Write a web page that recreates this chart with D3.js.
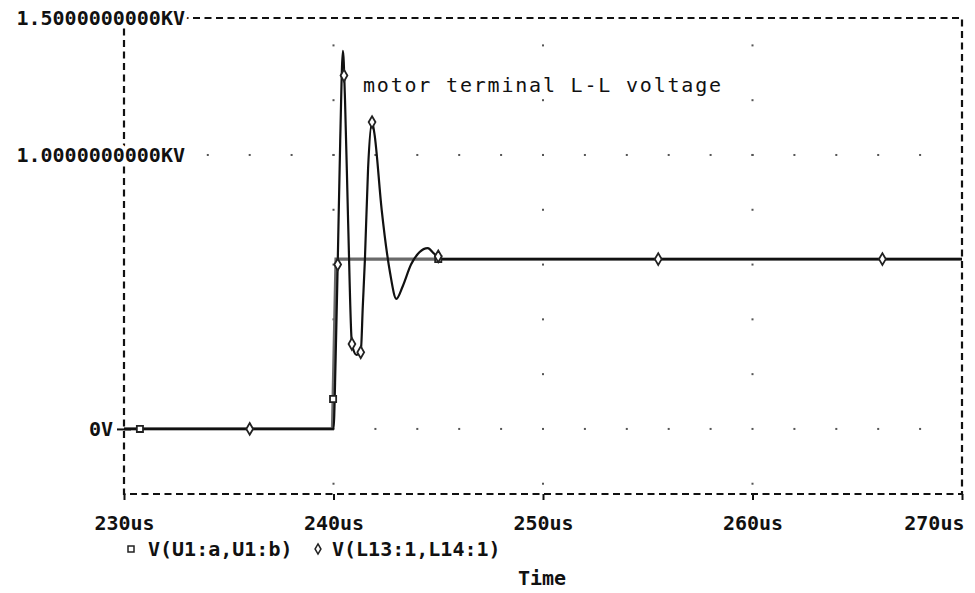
<!DOCTYPE html>
<html>
<head>
<meta charset="utf-8">
<script src="https://cdn.jsdelivr.net/npm/d3@7"></script>
<style>
  body { margin: 0; background: #fff; }
  svg { display: block; }
  text { font-family: "DejaVu Sans Mono", "Liberation Mono", monospace; fill: #111; }
</style>
</head>
<body>
<svg width="975" height="593"></svg>
<script>
// time in us, voltage in KV
const xTicks = [230, 240, 250, 260, 270];
const yTicks = [0, 1.0, 1.5];
const yTickLabels = ["0V", "1.0000000000KV", "1.5000000000KV"];

// V(U1:a,U1:b) - inverter side
const invT  = [230, 239.95, 240.12, 270];
const invKV = [0, 0, 0.62, 0.62];
const invMarkT = [230.76, 239.98, 245.0];

// V(L13:1,L14:1) - motor terminal
const motT  = [230, 240.0, 240.1, 240.2, 240.32, 240.45, 240.55, 240.7, 240.88, 241.1, 241.3, 241.4, 241.5, 241.65, 241.84, 241.95, 242.3, 242.7, 243.0, 243.3, 243.7, 244.1, 244.5, 244.8, 245.2, 270];
const motKV = [0, 0, 0.25, 0.6, 1.05, 1.38, 1.2, 0.75, 0.31, 0.27, 0.28, 0.45, 0.62, 0.95, 1.12, 1.08, 0.8, 0.57, 0.475, 0.52, 0.6, 0.645, 0.66, 0.64, 0.62, 0.62];
const motMarkT = [236.0, 240.2, 240.5, 240.88, 241.3, 241.84, 245.0, 255.5, 266.2];

// dotted grid
const gridRowsKV = [0, 1.0];
const gridRowT = d3.range(232, 270, 2);
const gridColsT = [240, 250, 260];
const gridColKV = [-0.2, 0.2, 0.4, 0.6, 0.8, 1.0, 1.2, 1.4];

const svg = d3.select("svg");
const L = 124, R = 962, T = 18, B = 494;
const x = d3.scaleLinear().domain([230, 270]).range([L, R]);
const y = d3.scaleLinear().domain([-0.2375, 1.5]).range([B, T]);

// grid dots
const dots = [];
gridRowsKV.forEach(v => gridRowT.forEach(t => dots.push([t, v])));
gridColsT.forEach(t => gridColKV.forEach(v => dots.push([t, v])));
svg.append("g").selectAll("rect").data(dots).enter().append("rect")
  .attr("x", d => x(d[0]) - 1).attr("y", d => y(d[1]) - 1)
  .attr("width", 2).attr("height", 2).attr("fill", "#555");

// dashed frame
svg.append("rect")
  .attr("x", L).attr("y", T).attr("width", R - L).attr("height", B - T)
  .attr("fill", "none").attr("stroke", "#111").attr("stroke-width", 2.2)
  .attr("stroke-dasharray", "7,4.5");

// traces
const line = d3.line().x(d => x(d[0])).y(d => y(d[1])).curve(d3.curveMonotoneX);
const inv = invT.map((t, i) => [t, invKV[i]]);
const mot = motT.map((t, i) => [t, motKV[i]]);
svg.append("path").datum(inv).attr("d", d3.line().x(d => x(d[0])).y(d => y(d[1])))
  .attr("fill", "none").attr("stroke", "#6a6a6a").attr("stroke-width", 3.2);
svg.append("path").datum(mot).attr("d", line)
  .attr("fill", "none").attr("stroke", "#111").attr("stroke-width", 2.2);

function valueAt(ts, vs, t) {
  const i = Math.max(1, d3.bisectLeft(ts, t));
  const t0 = ts[i - 1], t1 = ts[i];
  return vs[i - 1] + (vs[i] - vs[i - 1]) * (t - t0) / (t1 - t0);
}

// markers
svg.append("g").selectAll("path").data(invMarkT).enter().append("path")
  .attr("transform", t => `translate(${x(t)},${y(valueAt(invT, invKV, t))})`)
  .attr("d", d3.symbol(d3.symbolSquare, 38))
  .attr("fill", "#fff").attr("stroke", "#222").attr("stroke-width", 1.8);
svg.append("g").selectAll("path").data(motMarkT).enter().append("path")
  .attr("transform", t => `translate(${x(t)},${y(valueAt(motT, motKV, t))})`)
  .attr("d", d3.symbol(d3.symbolDiamond, 40))
  .attr("fill", "#fff").attr("stroke", "#222").attr("stroke-width", 1.8);

// x axis
const xAxis = svg.append("g").attr("transform", `translate(0,${B})`)
  .call(d3.axisBottom(x).tickValues(xTicks).tickFormat(d => d + "us").tickSize(6).tickPadding(16));
xAxis.select(".domain").remove();
xAxis.selectAll("line").attr("stroke", "#111").attr("stroke-width", 2);
xAxis.selectAll("text").attr("font-size", 20).attr("font-weight", "bold");
xAxis.selectAll(".tick").filter(d => d === 270).select("text")
  .attr("text-anchor", "end").attr("x", 2);

// y axis
const yAxis = svg.append("g").attr("transform", `translate(${L},0)`)
  .call(d3.axisLeft(y).tickValues(yTicks).tickFormat((d, i) => yTickLabels[i]).tickSize(7).tickPadding(4));
yAxis.select(".domain").remove();
yAxis.selectAll("line").attr("stroke", "#111").attr("stroke-width", 2).attr("x2", 7).attr("x1", -7);
yAxis.selectAll("text").attr("font-size", 20).attr("font-weight", "bold")
  .attr("x", d => d === 0 ? -11 : 61)
  .attr("stroke", "#fff").attr("stroke-width", 8).attr("paint-order", "stroke");

// annotation
svg.append("text").attr("x", 363).attr("y", 92)
  .attr("font-size", 20).attr("letter-spacing", 1.8).attr("fill", "#222")
  .text("motor terminal L-L voltage");

// legend
svg.append("path").attr("transform", "translate(131,549)")
  .attr("d", d3.symbol(d3.symbolSquare, 36))
  .attr("fill", "#fff").attr("stroke", "#222").attr("stroke-width", 1.5);
svg.append("text").attr("x", 148).attr("y", 556).attr("font-size", 20).attr("font-weight", "bold")
  .text("V(U1:a,U1:b)");
svg.append("path").attr("transform", "translate(318,549)")
  .attr("d", d3.symbol(d3.symbolDiamond, 30))
  .attr("fill", "#fff").attr("stroke", "#222").attr("stroke-width", 1.5);
svg.append("text").attr("x", 332).attr("y", 556).attr("font-size", 20).attr("font-weight", "bold")
  .text("V(L13:1,L14:1)");
svg.append("text").attr("x", 542).attr("y", 585).attr("font-size", 20).attr("font-weight", "bold")
  .attr("text-anchor", "middle").text("Time");
</script>
</body>
</html>
